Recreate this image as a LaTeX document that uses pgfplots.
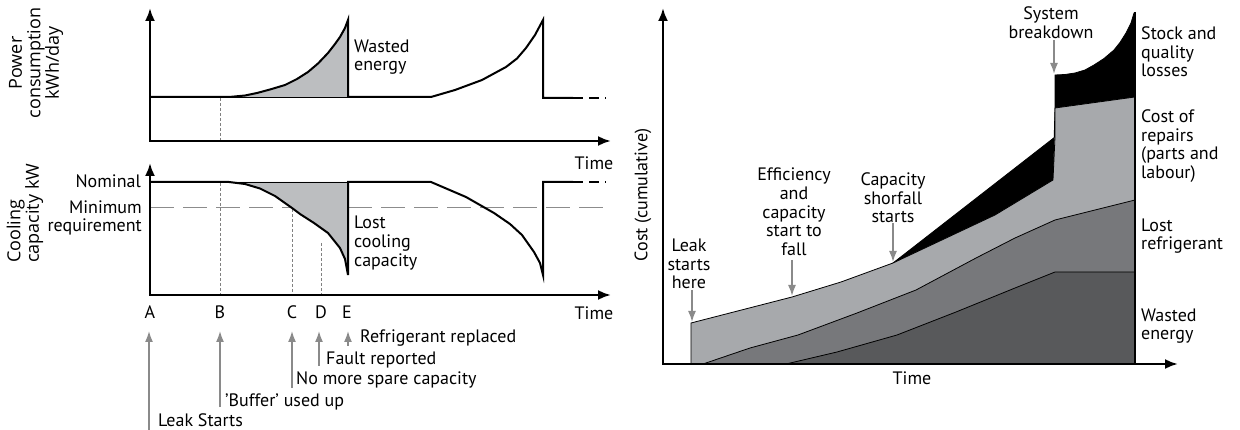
\documentclass[border=0pt]{standalone}
\usepackage{pgfplots}
\pgfplotsset{compat=1.18}
\usetikzlibrary{arrows.meta}
\usepackage{fontspec}
\setmainfont{PT Sans}
\newfontfamily\labfont{Open Sans}
\definecolor{fillL}{HTML}{BCBEC0}
\definecolor{lgray}{HTML}{A7A9AC}
\definecolor{mgray}{HTML}{77787B}
\definecolor{dgray}{HTML}{58595B}
\definecolor{agray}{HTML}{8A8A8A}
\definecolor{mingray}{HTML}{8C8C8C}
\begin{document}
\begin{tikzpicture}[
  tx/.style={inner sep=0pt, font=\fontsize{18}{18.7}\selectfont},
  lx/.style={inner sep=0pt, font=\labfont\fontsize{18}{18.5}\selectfont}]
\begin{axis}[scale only axis, width=1240pt, height=430pt,
  xmin=0, xmax=1240, ymin=0, ymax=430, y dir=reverse,
  hide axis, clip=false,
  axl/.style={line width=2.4pt, -{Latex[length=13pt,width=10pt]}},
  garr/.style={agray, line width=1.6pt, -{Latex[length=11pt,width=8pt]}},
  thick line/.style={line width=2pt, black},
  vdash/.style={gray, line width=0.8pt, dash pattern=on 3pt off 2pt}]

% ---------------- top-left: power consumption ----------------
\addplot[fill=fillL, draw=none] coordinates {(229,97)(245,95.5)(257,93)(270,89.5)(285,85)(297,79)(308,72)(318,63.5)(328,53)(335,44)(340,37)(345,28)(348,20)(348,97)} -- cycle;
\addplot[black, line width=0.8pt] coordinates {(229,97)(348,97)};
\addplot[vdash] coordinates {(220,98)(220,141)};
\addplot[thick line] coordinates {(150,97)(229,97)(245,95.5)(257,93)(270,89.5)(285,85)(297,79)(308,72)(318,63.5)(328,53)(335,44)(340,37)(345,28)(348,20)(348,97)(431,97)(455,90)(482,80)(506,67)(517,58.5)(526,48)(535,35)(543,20)(543,98)(573,98)};
\addplot[thick line, dash pattern=on 10pt off 6pt] coordinates {(573,98)(606,98)};
\addplot[axl] coordinates {(150,141)(150,8)};
\addplot[axl] coordinates {(149,141)(611,141)};

% ---------------- bottom-left: cooling capacity ----------------
\addplot[mingray, line width=1pt, dash pattern=on 24pt off 9pt] coordinates {(150,208)(607,208)};
\addplot[fill=fillL, draw=none] coordinates {(229,182)(245,184)(260,188.5)(275,196)(292,208)(300,214)(314,223)(328,233)(340,248)(345,259)(348,275)(348,182)} -- cycle;
\addplot[black, line width=0.8pt] coordinates {(229,182)(348,182)};
\addplot[vdash] coordinates {(220,183)(220,295)};
\addplot[vdash] coordinates {(292,209)(292,295)};
\addplot[vdash] coordinates {(321,243)(321,295)};
\addplot[thick line] coordinates {(150,182)(229,182)(245,184)(260,188.5)(275,196)(292,208)(300,214)(314,223)(328,233)(340,248)(345,259)(348,275)(348,182)(431,182)(466,197)(494,213)(510,224)(522,235)(534,252)(540,263)(543,275)(543,182)(573,182)};
\addplot[thick line, dash pattern=on 10pt off 6pt] coordinates {(573,182)(606,182)};
\addplot[axl] coordinates {(150,296)(150,163)};
\addplot[axl] coordinates {(149,295)(611,295)};

% gray event arrows
\addplot[garr] coordinates {(149,430)(149,331)};
\addplot[garr] coordinates {(220,407)(220,331)};
\addplot[garr] coordinates {(292,388)(292,331)};
\addplot[garr] coordinates {(319,366)(319,331)};
\addplot[garr] coordinates {(348,346)(348,331)};

% left texts
\node[tx, anchor=west, align=left] at (354,57) {Wasted\\energy};
\node[tx, anchor=west, align=left] at (354,243) {Lost\\cooling\\capacity};
\node[tx, anchor=east] at (141,181) {Nominal};
\node[tx, anchor=east, align=right] at (142,218) {Minimum\\requirement};
\node[tx] at (594,163) {Time};
\node[tx] at (594,313) {Time};
\node[tx] at (150,312) {A};
\node[tx] at (220,312) {B};
\node[tx] at (292,312) {C};
\node[tx] at (321,312) {D};
\node[tx] at (347,312) {E};
\node[tx, anchor=west] at (360,338) {Refrigerant replaced};
\node[tx, anchor=west] at (326,360) {Fault reported};
\node[tx, anchor=west] at (296,380) {No more spare capacity};
\node[tx, anchor=west] at (225,402) {'Buffer' used up};
\node[tx, anchor=west] at (158,420) {Leak Starts};
\node[lx, rotate=90, align=center] at (36,63) {Power\\consumption\\kWh/day};
\node[lx, rotate=90, anchor=west, align=left] at (25,263) {Cooling\\capacity kW};

% ---------------- right: cumulative cost ----------------
\addplot[fill=black, draw=black, line width=0.8pt] coordinates {(893,263)(1055,137)(1055,75)(1065,74.5)(1075,73)(1085,70)(1094,65)(1104,58.5)(1114,50)(1120,42.5)(1126,33)(1131,23)(1134,13)(1135,13)(1135,97)(1055,108)(1053,180)(995,215)} -- cycle;
\addplot[fill=lgray, draw=black, line width=0.8pt] coordinates {(691,364)(691,323)(792,297)(841,282)(893,263)(995,215)(1053,180)(1055,137)(1055,108)(1135,97)(1135,364)} -- cycle;
\addplot[fill=mgray, draw=black, line width=0.8pt] coordinates {(703,364)(750,348)(798,335)(857,313)(916,290)(976,258)(1015,238)(1055,220)(1135,200)(1135,364)} -- cycle;
\addplot[fill=dgray, draw=black, line width=0.8pt] coordinates {(786,364)(837,352)(897,335)(956,312)(1015,288)(1055,272)(1135,272)(1135,364)} -- cycle;
\addplot[black, line width=2pt] coordinates {(1135,12)(1135,364)};
\addplot[axl] coordinates {(663,365)(663,8)};
\addplot[axl] coordinates {(662,364)(1178,364)};

\addplot[garr] coordinates {(692,290)(692,322)};
\addplot[garr] coordinates {(792,260)(792,296)};
\addplot[garr] coordinates {(893,223)(893,262)};
\addplot[garr] coordinates {(1054,40)(1054,74)};

\node[tx, align=center] at (689,264) {Leak\\starts\\here};
\node[tx, align=center] at (794,212) {Efficiency\\and\\capacity\\start to\\fall};
\node[tx, align=center] at (893,198) {Capacity\\shorfall\\starts};
\node[tx, align=center] at (1051,23) {System\\breakdown};
\node[tx, anchor=west, align=left] at (1141,52) {Stock and\\quality\\losses};
\node[tx, anchor=west, align=left] at (1141,146) {Cost of\\repairs\\(parts and\\labour)};
\node[tx, anchor=west, align=left] at (1141,236) {Lost\\refrigerant};
\node[tx, anchor=west, align=left] at (1141,326) {Wasted\\energy};
\node[tx] at (912,378) {Time};
\node[tx, rotate=90] at (643,195) {Cost (cumulative)};
\end{axis}
\pgfresetboundingbox
\path[use as bounding box] (current axis.south west) rectangle (current axis.north east);
\end{tikzpicture}
\end{document}
